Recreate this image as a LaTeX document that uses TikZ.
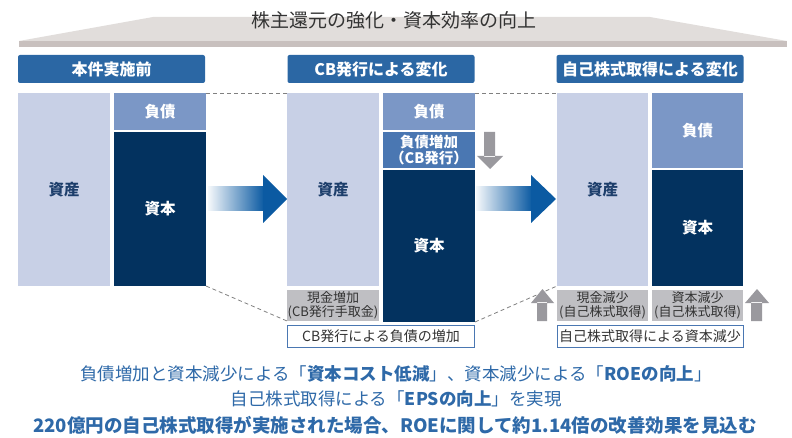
\documentclass[tikz,border=0pt]{standalone}
\usepackage{fontspec}
\usepackage{xcolor}
\usepackage{tikz}
\setmainfont{Noto Sans CJK JP}

\definecolor{hdrblue}{HTML}{2B67A4}
\definecolor{assetc}{HTML}{C8D0E6}
\definecolor{debtc}{HTML}{7B97C6}
\definecolor{debtup}{HTML}{4A77B2}
\definecolor{navy}{HTML}{03325F}
\definecolor{grayc}{HTML}{BFBFC3}
\definecolor{bannerc}{HTML}{E1DDDB}
\definecolor{stripc}{HTML}{C8C0BE}
\definecolor{arrowgray}{HTML}{9A999E}
\definecolor{arrowblue}{HTML}{0B5AA2}
\definecolor{textblue}{HTML}{2E69A8}
\definecolor{assettext}{HTML}{1D3E6B}
\definecolor{darktext}{HTML}{333333}

\begin{document}
\begin{tikzpicture}[x=1pt, y=-1pt,
    every node/.style={inner sep=0pt, outer sep=0pt},
    hdr/.style={fill=hdrblue, rounded corners=2pt, minimum width=187pt, minimum height=28pt,
        text=white, font=\fontsize{16}{16}\selectfont\bfseries},
    asset/.style={fill=assetc, minimum width=92pt, minimum height=193pt,
        text=assettext, font=\fontsize{15.5}{16}\selectfont\bfseries},
    debt/.style={fill=debtc, minimum width=92pt, text=white,
        font=\fontsize{15.5}{16}\selectfont\bfseries},
    equity/.style={fill=navy, minimum width=92pt, text=white,
        font=\fontsize{15.5}{16}\selectfont\bfseries},
    grayb/.style={fill=grayc, minimum width=92pt, minimum height=31pt, text=darktext,
        align=center, font=\fontsize{13}{13.8}\selectfont},
    note/.style={draw=debtup, line width=1pt, fill=white, minimum height=22pt, text=darktext,
        font=\fontsize{14}{14}\selectfont},
    link/.style={draw=gray, dash pattern=on 4pt off 3pt, line width=0.8pt},
    foot/.style={text=textblue, font=\fontsize{17.5}{18}\selectfont}]
    \useasboundingbox (0,0) rectangle (792,438);

    % title banner
    \fill[bannerc] (19,41) -- (153,17) -- (650,17) -- (787,41) -- cycle;
    \fill[stripc] (19,41) rectangle (787,47);
    \node[text=darktext, font=\fontsize{19}{19}\selectfont] (title) at (394,20) {株主還元の強化・資本効率の向上};

    % headers
    \node[hdr] (H1) at (111.5,69) {本件実施前};
    \node[hdr] (H2) at (381,69) {CB発行による変化};
    \node[hdr] (H3) at (650,69) {自己株式取得による変化};

    % before
    \node[asset] (A1) at (64,189.5) {資産};
    \node[debt, minimum height=37pt] (D1) at (160,111.5) {負債};
    \node[equity, minimum height=154pt] (E1) at (160,209) {資本};

    % after CB
    \node[asset] (A2) at (333,189.5) {資産};
    \node[grayb] (C2) at (333,305.5) {現金増加\\(CB発行手取金)};
    \node[debt, minimum height=37pt] (D2) at (429,111.5) {負債};
    \node[debt, fill=debtup, minimum height=36pt, align=center,
        font=\fontsize{14.5}{16}\selectfont\bfseries] (N2) at (429,150) {負債増加\\（CB発行）};
    \node[equity, minimum height=152pt] (E2) at (429,246) {資本};
    \node[note, minimum width=187pt] (B2) at (381,336.5) {CB発行による負債の増加};

    % after buyback
    \node[asset, minimum width=91pt] (A3) at (602.5,189.5) {資産};
    \node[debt, minimum width=91pt, minimum height=75pt] (D3) at (697.5,130.5) {負債};
    \node[equity, minimum width=91pt, minimum height=116pt] (E3) at (697.5,228) {資本};
    \node[grayb, minimum width=91pt] (C3) at (602.5,305.5) {現金減少\\(自己株式取得)};
    \node[grayb, minimum width=91pt] (R3) at (697.5,305.5) {資本減少\\(自己株式取得)};
    \node[note, minimum width=186pt] (B3) at (650,336.5) {自己株式取得による資本減少};

    % dashed guides
    \draw[link] (D1.north east) -- (A2.north west);
    \draw[link] (E1.south east) -- (C2.south west);
    \draw[link] (D2.north east) -- (A3.north west);
    \draw[link] (E2.south east) -- (A3.south west);

    % blue arrows
    \shade[left color=arrowblue!4, right color=arrowblue] (208,187) rectangle (264,211);
    \fill[arrowblue] (263,175) -- (287,199) -- (263,223) -- cycle;
    \shade[left color=arrowblue!4, right color=arrowblue] (476,187) rectangle (532,211);
    \fill[arrowblue] (531,175) -- (556,199) -- (531,223) -- cycle;

    % gray arrows
    \fill[arrowgray] (484,132) rectangle (495,157) (477,156) -- (503,156) -- (490,169) -- cycle;
    \fill[arrowgray] (537,321) rectangle (547,302) (531,303) -- (554,303) -- (542.5,289) -- cycle;
    \fill[arrowgray] (751,321) rectangle (762,302) (745,303) -- (769,303) -- (757,289) -- cycle;

    % summary
    \node[foot] (L1) at (396,374) {負債増加と資本減少による「\textbf{資本コスト低減}」、資本減少による「\textbf{ROEの向上}」};
    \node[foot] (L2) at (396,399) {自己株式取得による「\textbf{EPSの向上}」を実現};
    \node[foot, font=\fontsize{18.5}{19}\selectfont\bfseries] (L3) at (395,425) {220億円の自己株式取得が実施された場合、ROEに関して約1.14倍の改善効果を見込む};
\end{tikzpicture}
\end{document}
